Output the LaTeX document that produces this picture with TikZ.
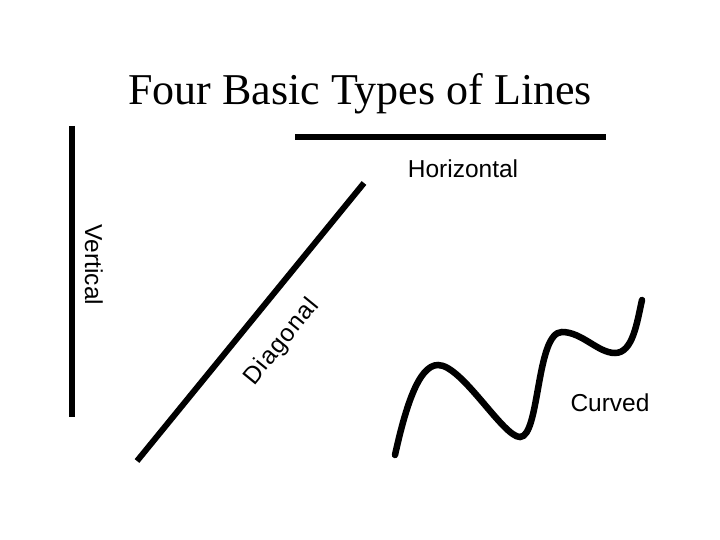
\documentclass[tikz,border=0pt]{standalone}
\usepackage{fontspec}
\setmainfont{Liberation Serif}
\setsansfont{Liberation Sans}
\begin{document}
\begin{tikzpicture}[x=1pt,y=-1pt,
  thick line/.style={line width=6pt,black},
  lbl/.style={font=\sffamily\fontsize{24.5}{28}\selectfont,inner sep=0pt}]
\useasboundingbox[fill=white] (0,0) rectangle (720,540);
\node[font=\fontsize{44}{50}\selectfont,inner sep=0pt] (title) at (360,94) {Four Basic Types of Lines};
% vertical
\coordinate (v1) at (72,126);
\coordinate (v2) at (72,417);
\draw[thick line] (v1) -- (v2);
\node[lbl,rotate=-90] (vl) at (94,265) {Vertical};
% horizontal
\coordinate (h1) at (295,137);
\coordinate (h2) at (606,137);
\draw[thick line] (h1) -- (h2);
\node[lbl] (hl) at (463,169) {Horizontal};
% diagonal
\coordinate (d1) at (137,461);
\coordinate (d2) at (364,183);
\draw[thick line] (d1) -- (d2);
\node[lbl,rotate=50.8] (dl) at (282,342) {\addfontfeature{LetterSpace=4}Diagonal};
% curved
\coordinate (c0) at (395,455);
\coordinate (c1) at (438,365);
\coordinate (c2) at (520,437);
\coordinate (c3) at (562,332);
\coordinate (c4) at (615,353);
\coordinate (c5) at (642,300);
\draw[thick line,line width=6.5pt,line cap=round] (c0) .. controls (405,410) and (418,365) .. (c1)
  .. controls (462,365) and (503,437) .. (c2)
  .. controls (540,437) and (536,332) .. (c3)
  .. controls (582,332) and (598,353) .. (c4)
  .. controls (633,353) and (637,322) .. (c5);
\node[lbl] (cl) at (610,403) {Curved};
\end{tikzpicture}
\end{document}
